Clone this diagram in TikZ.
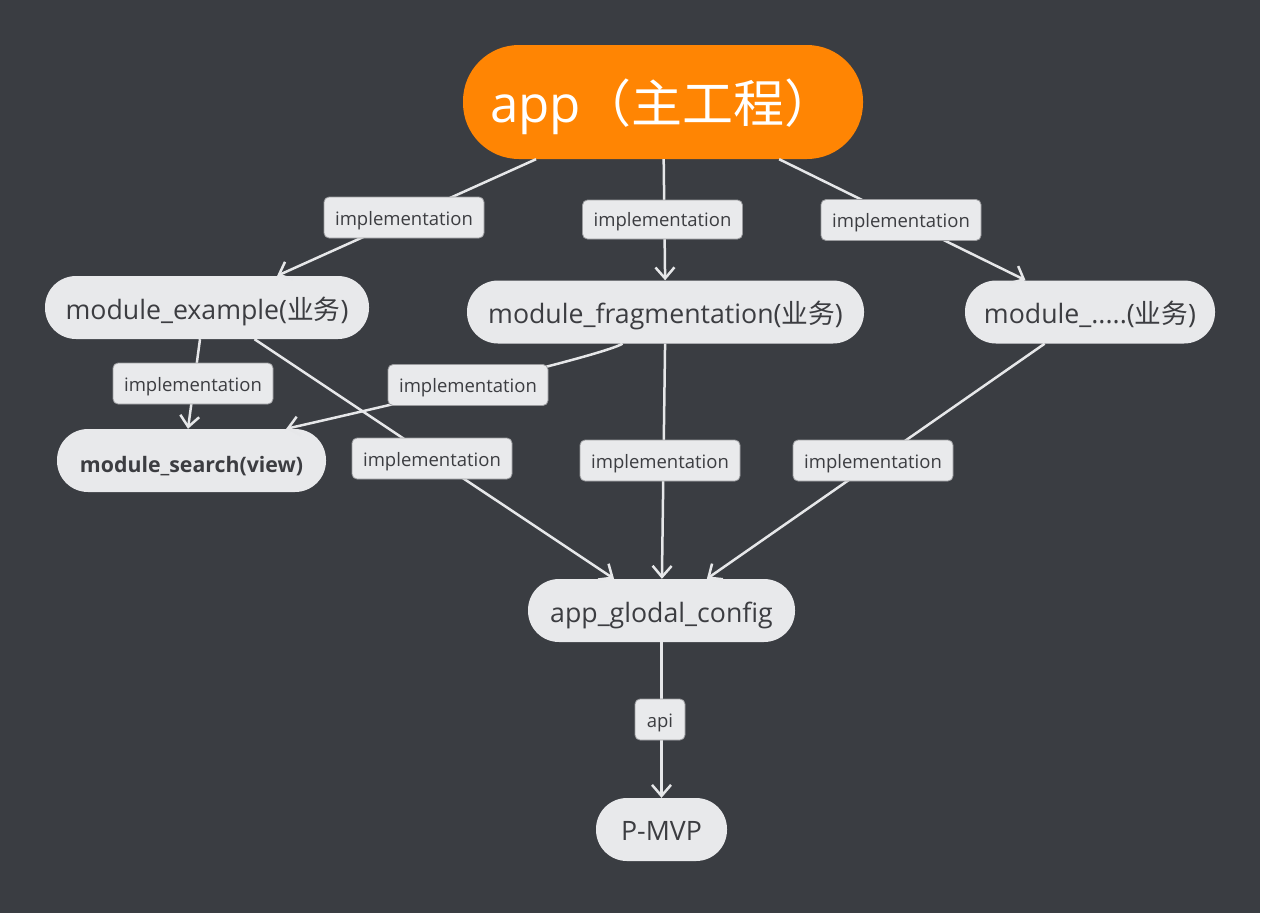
\documentclass[tikz,border=0pt]{standalone}
\usepackage{fontspec}
\setmainfont{Open Sans}
\newfontfamily\cjk{Noto Sans CJK SC}
\usetikzlibrary{arrows.meta}
\definecolor{bg}{HTML}{3A3D42}
\definecolor{nodefill}{HTML}{E8E9EB}
\definecolor{labfill}{HTML}{E9EAEC}
\definecolor{labborder}{HTML}{9A9B9E}
\definecolor{txt}{HTML}{3C3D41}
\definecolor{orangefill}{HTML}{FF8503}
\definecolor{edgecol}{HTML}{E6E7E9}
\tikzset{
  modbox/.style={rectangle, rounded corners=31pt, fill=nodefill, text=txt, inner sep=0pt,
    minimum height=63pt, text height=28pt, text depth=5pt, font=\fontsize{26.7}{30}\selectfont},
  rootbox/.style={rectangle, rounded corners=56pt, fill=orangefill, text=white, inner sep=0pt,
    minimum width=400pt, minimum height=114pt, text height=50pt, text depth=10pt,
    font=\fontsize{51}{58}\selectfont},
  labbox/.style={rectangle, rounded corners=5pt, fill=labfill, draw=labborder, line width=0.8pt,
    text=txt, inner sep=0pt, minimum width=160pt, minimum height=41pt,
    text height=19pt, text depth=4pt, font=\fontsize{18.5}{22}\selectfont},
  conn/.style={draw=edgecol, line width=2.5pt, -{Straight Barb[length=11pt,width=19pt,line width=2.5pt]}},
}
\begin{document}
\begin{tikzpicture}[x=1pt,y=-1pt]
\fill[white] (0,0) rectangle (1268,913);
\fill[bg] (0,0) rectangle (1260,913);
\useasboundingbox (0,0) rectangle (1268,913);

% main nodes
\node[rootbox] (app) at (663,102) {app{\cjk （主工程）}};
\node[modbox, minimum width=324pt] (ex) at (207,307.5) {module\_example({\cjk 业务})};
\node[modbox, minimum width=397pt] (frag) at (665.5,312) {module\_fragmentation({\cjk 业务})};
\node[modbox, minimum width=250pt] (dots) at (1090,312) {module\_.....({\cjk 业务})};
\node[modbox, minimum width=269pt, font=\fontsize{21.3}{25}\selectfont\bfseries] (search) at (191.5,460.5) {module\_search(view)};
\node[modbox, minimum width=267pt] (cfg) at (661.5,610.5) {app\_glodal\_config};
\node[modbox, minimum width=131pt, text height=27pt, text depth=6pt] (mvp) at (661.5,829.5) {P-MVP};

% connectors
\draw[conn] (app) -- (ex);
\draw[conn] (app) -- (frag);
\draw[conn] (app) -- (dots);
\draw[conn] ([xshift=-7pt]ex.south) -- ([xshift=-3.5pt]search.north);
\draw[conn] ([xshift=-43pt]frag.south) .. controls +(-20,12) and +(110,-25) .. ([xshift=-40pt]search.north east);
\draw[conn] (ex) -- (cfg);
\draw[conn] (frag) -- (cfg);
\draw[conn] (dots) -- (cfg);
\draw[conn] (cfg) -- (mvp);

% labels
\node[labbox] (l1) at (404,217.5) {implementation};
\node[labbox, minimum height=39pt, text height=18pt] (l2) at (662.5,219.5) {implementation};
\node[labbox] (l3) at (901,220) {implementation};
\node[labbox] (l4) at (193,383.5) {implementation};
\node[labbox] (l5) at (468,385) {implementation};
\node[labbox] (l6) at (432,458.5) {implementation};
\node[labbox] (l7) at (660,460.5) {implementation};
\node[labbox] (l8) at (873,460.5) {implementation};
\node[labbox, minimum width=50pt] (l9) at (660,719.5) {api};
\end{tikzpicture}
\end{document}
